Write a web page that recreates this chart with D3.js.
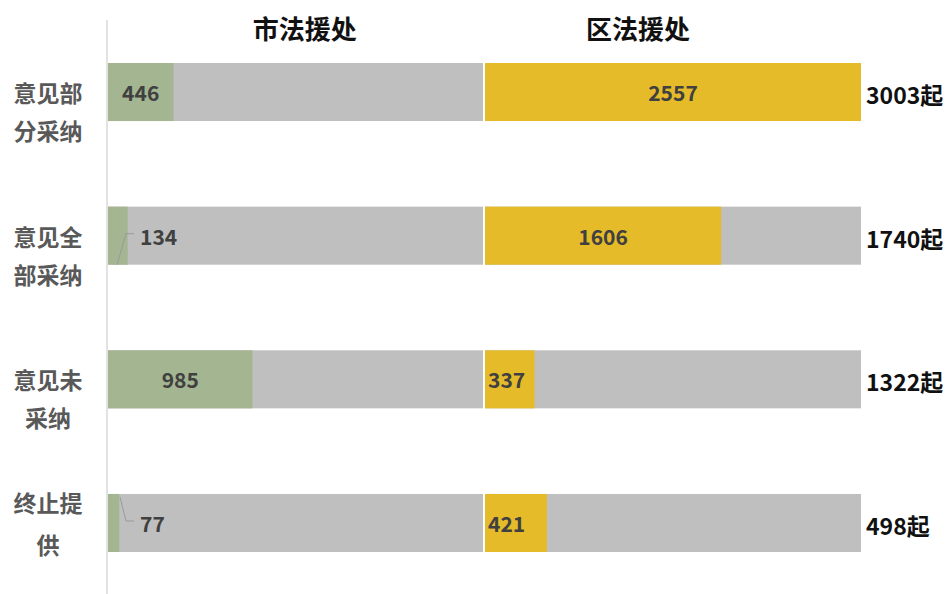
<!DOCTYPE html>
<html>
<head>
<meta charset="utf-8">
<script src="https://cdn.jsdelivr.net/npm/d3@7"></script>
<style>
  html, body { margin: 0; padding: 0; background: #fff; }
  svg { display: block; font-family: "Noto Sans CJK SC", "Noto Sans", sans-serif; }
</style>
</head>
<body>
<svg id="chart" width="951" height="594"></svg>
<script>
const categories = ["意见部分采纳", "意见全部采纳", "意见未采纳", "终止提供"];
const categoryLines = [["意见部", "分采纳"], ["意见全", "部采纳"], ["意见未", "采纳"], ["终止提", "供"]];
const panelTitles = ["市法援处", "区法援处"];
const cityValues = [446, 134, 985, 77];
const districtValues = [2557, 1606, 337, 421];
const totals = [3003, 1740, 1322, 498];
const totalSuffix = "起";

const svg = d3.select("#chart");
const maxVal = d3.max(districtValues.concat(cityValues));

const xL = d3.scaleLinear().domain([0, maxVal]).range([108, 483]);
const xR = d3.scaleLinear().domain([0, maxVal]).range([485, 861]);
const y = d3.scaleBand().domain(categories).range([63, 552]).paddingInner(0.596).paddingOuter(0);

const green = "#a4b591", yellow = "#e5bb2a", gray = "#bfbfbf";

// vertical axis line
svg.append("line").attr("x1", 107).attr("x2", 107).attr("y1", 20).attr("y2", 594)
  .attr("stroke", "#d9d9d9").attr("stroke-width", 1.5);

// background bars
[xL, xR].forEach(sc => {
  svg.append("g").selectAll("rect").data(categories).join("rect")
    .attr("x", sc(0)).attr("width", sc(maxVal) - sc(0))
    .attr("y", d => y(d)).attr("height", y.bandwidth())
    .attr("fill", gray);
});

// city bars
svg.append("g").selectAll("rect").data(cityValues).join("rect")
  .attr("x", xL(0)).attr("width", d => xL(d) - xL(0))
  .attr("y", (d, i) => y(categories[i])).attr("height", y.bandwidth())
  .attr("fill", green);

// district bars
svg.append("g").selectAll("rect").data(districtValues).join("rect")
  .attr("x", xR(0)).attr("width", d => xR(d) - xR(0))
  .attr("y", (d, i) => y(categories[i])).attr("height", y.bandwidth())
  .attr("fill", yellow);

const labelColor = "#404040";
const valSize = 21;
const mid = i => y(categories[i]) + y.bandwidth() / 2;

// city value labels
cityValues.forEach((v, i) => {
  const w = xL(v) - xL(0);
  const cy = mid(i);
  if (w > 40) {
    svg.append("text").attr("x", (xL(0) + xL(v)) / 2).attr("y", cy)
      .attr("text-anchor", "middle").attr("dominant-baseline", "central")
      .attr("font-size", valSize).attr("font-weight", "bold").attr("fill", labelColor).text(v);
  } else {
    const tx = xL(0) + 32;
    const top = y(categories[i]);
    const sy = i === 3 ? top + 3 : top + y.bandwidth();
    const lx = i === 3 ? xL(0) + 12 : xL(0) + 9;
    svg.append("path")
      .attr("d", `M${lx},${sy} L${xL(0) + 18},${cy - 2} L${tx - 6},${cy - 2}`)
      .attr("fill", "none").attr("stroke", "#9a9a9a").attr("stroke-width", 1);
    svg.append("text").attr("x", tx).attr("y", cy)
      .attr("text-anchor", "start").attr("dominant-baseline", "central")
      .attr("font-size", valSize).attr("font-weight", "bold").attr("fill", labelColor).text(v);
  }
});

// district value labels
districtValues.forEach((v, i) => {
  const w = xR(v) - xR(0);
  const cy = mid(i);
  const t = svg.append("text").attr("y", cy).attr("dominant-baseline", "central")
    .attr("font-size", valSize).attr("font-weight", "bold").attr("fill", labelColor).text(v);
  if (w < 80) t.attr("x", xR(0) + 3).attr("text-anchor", "start");
  else t.attr("x", (xR(0) + xR(v)) / 2).attr("text-anchor", "middle");
});

// totals
totals.forEach((v, i) => {
  svg.append("text").attr("x", xR(maxVal) + 5).attr("y", mid(i) + 2)
    .attr("dominant-baseline", "central")
    .attr("font-size", 23).attr("font-weight", "bold").attr("fill", "#111").text(v + totalSuffix);
});

// category labels
categoryLines.forEach((lines, i) => {
  const cy = mid(i);
  const offs = i === 3 ? [-21, 21] : [0, 38];
  lines.forEach((ln, j) => {
    svg.append("text").attr("x", 48).attr("y", cy + offs[j])
      .attr("text-anchor", "middle").attr("dominant-baseline", "central")
      .attr("font-size", 23).attr("font-weight", "bold").attr("fill", "#595959").text(ln);
  });
});

// panel titles
svg.append("text").attr("x", xL(maxVal * 0.525)).attr("y", 27)
  .attr("text-anchor", "middle").attr("dominant-baseline", "central")
  .attr("font-size", 26).attr("font-weight", "bold").attr("fill", "#111").text(panelTitles[0]);
svg.append("text").attr("x", xR(maxVal * 0.407)).attr("y", 27)
  .attr("text-anchor", "middle").attr("dominant-baseline", "central")
  .attr("font-size", 26).attr("font-weight", "bold").attr("fill", "#111").text(panelTitles[1]);
</script>
</body>
</html>
